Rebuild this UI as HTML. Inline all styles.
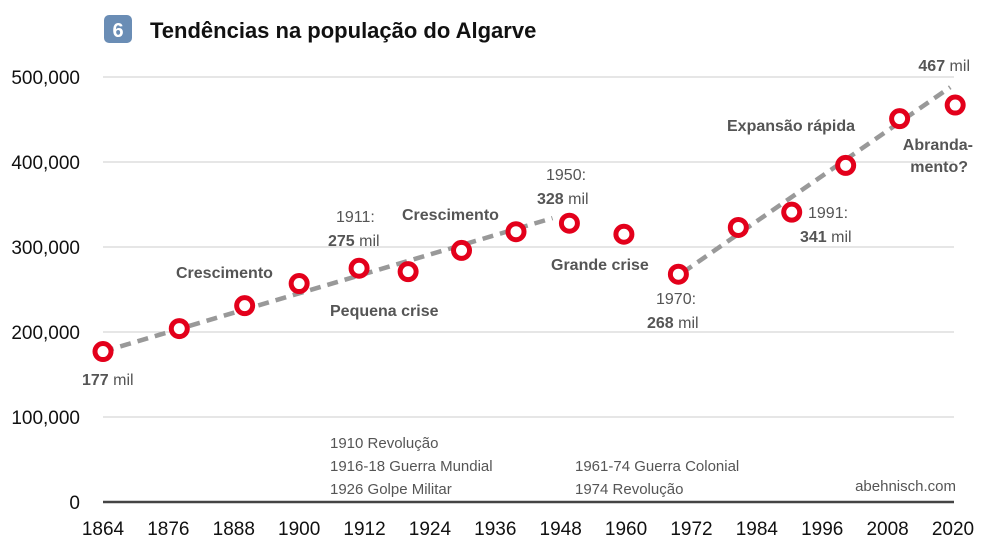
<!DOCTYPE html>
<html><head><meta charset="utf-8"><style>
body{margin:0;background:#fff;}
svg{display:block;font-family:"Liberation Sans",sans-serif;}
</style></head><body>
<svg id="chart" width="995" height="555" viewBox="0 0 995 555">
<rect x="104" y="15" width="28" height="28" rx="5" fill="#6a8db5"/>
<text x="118" y="37" font-size="20" font-weight="bold" fill="#fff" text-anchor="middle">6</text>
<text x="150" y="38" font-size="22" font-weight="bold" fill="#111">Tendências na população do Algarve</text>
<g id="grid"></g><g id="yticks"></g><g id="xticks"></g><g id="trends"></g><g id="points"></g>
<g font-size="16" fill="#555">
<text x="82" y="385"><tspan font-weight="bold">177</tspan> mil</text>
<text x="176" y="278" font-weight="bold">Crescimento</text>
<text x="336" y="222">1911:</text>
<text x="328" y="246"><tspan font-weight="bold">275</tspan> mil</text>
<text x="330" y="316" font-weight="bold">Pequena crise</text>
<text x="402" y="220" font-weight="bold">Crescimento</text>
<text x="546" y="180">1950:</text>
<text x="537" y="204"><tspan font-weight="bold">328</tspan> mil</text>
<text x="551" y="270" font-weight="bold">Grande crise</text>
<text x="656" y="304">1970:</text>
<text x="647" y="328"><tspan font-weight="bold">268</tspan> mil</text>
<text x="808" y="218">1991:</text>
<text x="800" y="242"><tspan font-weight="bold">341</tspan> mil</text>
<text x="727" y="131" font-weight="bold">Expansão rápida</text>
<text x="973" y="150" font-weight="bold" text-anchor="end">Abranda-</text>
<text x="968" y="172" font-weight="bold" text-anchor="end">mento?</text>
<text x="970" y="71" text-anchor="end"><tspan font-weight="bold">467</tspan> mil</text>
</g>
<g font-size="15" fill="#555">
<text x="330" y="448">1910 Revolução</text>
<text x="330" y="471">1916-18 Guerra Mundial</text>
<text x="330" y="494">1926 Golpe Militar</text>
<text x="575" y="471">1961-74 Guerra Colonial</text>
<text x="575" y="494">1974 Revolução</text>
<text x="956" y="491" text-anchor="end">abehnisch.com</text>
</g>
</svg>
<script>
const years=[1864,1878,1890,1900,1911,1920,1929.8,1939.8,1949.6,1959.6,1969.6,1980.6,1990.4,2000.3,2010.2,2020.4];
const population=[177,204,231,257,275,271,296,318,328,315,268,323,341,396,451,467];
const trendA=[[1864,177],[1946.5,334]];
const trendB=[[1970.4,270],[2019.5,488]];
const yTickValues=[0,100000,200000,300000,400000,500000];
const yTickLabels=["0","100,000","200,000","300,000","400,000","500,000"];
const xTickLabels=[1864,1876,1888,1900,1912,1924,1936,1948,1960,1972,1984,1996,2008,2020];
const NS="http://www.w3.org/2000/svg";
const X=y=>103+(y-1864)*(850/156);
const Y=v=>502-v*(425/500000);
function mk(t,a,p){const e=document.createElementNS(NS,t);for(const k in a)e.setAttribute(k,a[k]);p.appendChild(e);return e;}
const grid=document.getElementById('grid'),yt=document.getElementById('yticks'),xt=document.getElementById('xticks');
yTickValues.forEach((v,i)=>{
 const l=mk('line',{x1:103,x2:954,y1:Y(v),y2:Y(v),stroke:v===0?'#444':'#ccc','stroke-width':v===0?2.5:1},grid);
 
 
 const t=mk('text',{x:80,y:Y(v)+7,'font-size':19,'text-anchor':'end',fill:'#111'},yt);t.textContent=yTickLabels[i];
 
 
});
xTickLabels.forEach(yr=>{
 const t=mk('text',{x:X(yr),y:535,'font-size':19,'text-anchor':'middle',fill:'#111'},xt);t.textContent=yr;
 
 
});
const tr=document.getElementById('trends');
[trendA,trendB].forEach(s=>{
 const l=mk('line',{x1:X(s[0][0]),y1:Y(s[0][1]*1000),x2:X(s[1][0]),y2:Y(s[1][1]*1000),stroke:'#999','stroke-width':4.5,'stroke-dasharray':'11 7'},tr);
 
 
});
const pts=document.getElementById('points');
years.forEach((yr,i)=>{
 const c=mk('circle',{cx:X(yr),cy:Y(population[i]*1000),r:8,fill:'#fff',stroke:'#e3001b','stroke-width':5},pts);
 
 
});
</script>
</body></html>
